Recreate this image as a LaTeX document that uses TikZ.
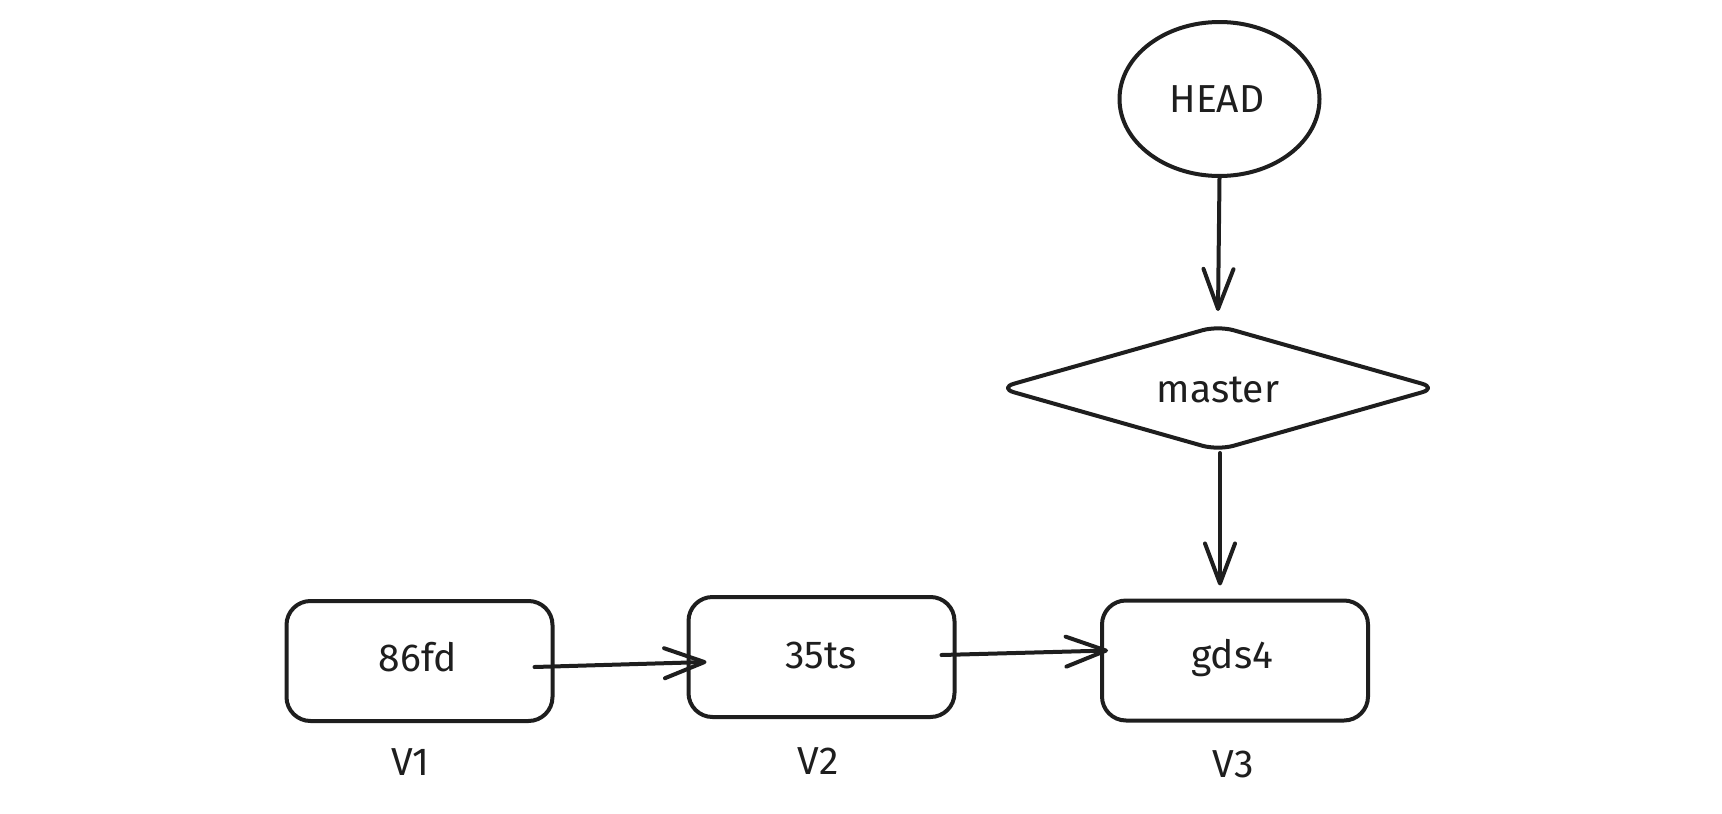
\documentclass[tikz,border=0pt]{standalone}
\usepackage{fontspec}
\setmainfont{Fira Sans}
\usetikzlibrary{shapes.geometric,arrows.meta,calc}
\definecolor{ink}{HTML}{1E1E1E}
\begin{document}
\begin{tikzpicture}[x=1pt,y=-1pt,
  stroke/.style={draw=ink,line width=4pt,line join=round,line cap=round},
  commit/.style={stroke,rounded corners=24pt,minimum width=266pt,minimum height=120pt,inner sep=0pt},
  label/.style={text=ink,font=\fontsize{39}{46}\selectfont,inner sep=0pt},
  conn/.style={draw=ink,line width=4pt,line cap=round,
    -{Straight Barb[length=40pt,width=30pt,line cap=round,line join=round]}}]
  \useasboundingbox (0,0) rectangle (1722,814);
  % commits
  \node[commit] (b1) at (419.5,661) {};
  \node[commit] (b2) at (821.5,657) {};
  \node[commit] (b3) at (1235,660.5) {};
  \node[label] at (418,657) {86fd};
  \node[label] at (821,655) {35ts};
  \node[label] at (1232,658) {gds4};
  % version captions
  \node[label] (v1) at (410,762) {V1};
  \node[label] (v2) at (818,761) {V2};
  \node[label] (v3) at (1233,764) {V3};
  % HEAD and branch
  \node[stroke,ellipse,minimum width=200pt,minimum height=154pt,inner sep=0pt] (head) at (1219.5,99) {};
  \node[label] at (1217,99) {HEAD};
  \node[stroke,diamond,minimum width=440pt,minimum height=126pt,inner sep=0pt,
        shape aspect=3.5,rounded corners=16pt] (master) at (1218,388) {};
  \node[label] at (1218,390) {master};
  % connectors
  \draw[conn] ($(b1.east)+(-20,6)$) -- ($(b2.west)+(20,5)$);
  \draw[conn] ($(b2.east)+(-15,-2)$) -- ($(b3.west)+(8,-10)$);
  \draw[conn] (head.south) -- ($(master.north)+(0,-12)$);
  \draw[conn] ($(master.south)+(2,0)$) -- ($(b3.north)+(-15,-13)$);
\end{tikzpicture}
\end{document}
